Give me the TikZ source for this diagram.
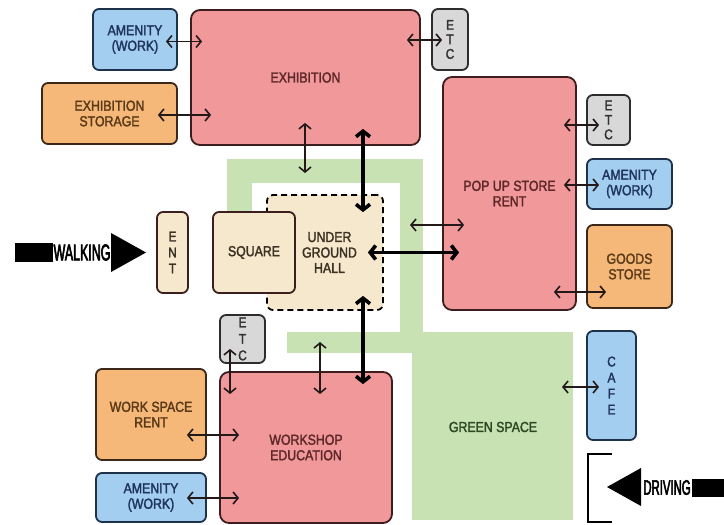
\documentclass[tikz,border=0pt]{standalone}
\usepackage{fontspec}
\setmainfont{Liberation Sans}
\newfontfamily\lblfont[FakeStretch=0.85,FakeBold=2]{Liberation Sans}
\newfontfamily\narrowfont[FakeStretch=0.54,FakeBold=2.5]{Liberation Sans}
\usetikzlibrary{arrows.meta,calc}
\definecolor{redfill}{RGB}{240,152,154}
\definecolor{redline}{RGB}{60,30,30}
\definecolor{redtext}{RGB}{95,40,40}
\definecolor{bluefill}{RGB}{163,206,240}
\definecolor{blueline}{RGB}{30,50,75}
\definecolor{bluetext}{RGB}{30,52,90}
\definecolor{orangefill}{RGB}{246,184,120}
\definecolor{orangeline}{RGB}{60,40,25}
\definecolor{orangetext}{RGB}{90,58,25}
\definecolor{grayfill}{RGB}{216,216,216}
\definecolor{grayline}{RGB}{45,45,45}
\definecolor{graytext}{RGB}{50,50,50}
\definecolor{beigefill}{RGB}{245,232,205}
\definecolor{beigetext}{RGB}{60,50,35}
\definecolor{greenfill}{RGB}{200,226,180}
\definecolor{greentext}{RGB}{45,72,35}
\definecolor{arrowcol}{RGB}{35,25,25}
\begin{document}
\begin{tikzpicture}[x=1pt,y=-1pt,
  box/.style={draw, line width=1.8pt, rounded corners=6pt, inner sep=0pt, align=center,
    font=\lblfont\fontsize{14.5}{15.5}\selectfont},
  redbox/.style={box, fill=redfill, draw=redline, text=redtext, rounded corners=9pt},
  bluebox/.style={box, fill=bluefill, draw=blueline, text=bluetext},
  orangebox/.style={box, fill=orangefill, draw=orangeline, text=orangetext},
  graybox/.style={box, fill=grayfill, draw=grayline, text=graytext, font=\lblfont\fontsize{14}{14.5}\selectfont},
  beigebox/.style={box, fill=beigefill, draw=redline, text=beigetext},
  tarr/.style={draw=arrowcol, line width=1.6pt,
    {Straight Barb[length=5pt,width=12pt]}-{Straight Barb[length=5pt,width=12pt]}},
  karr/.style={draw=black, line width=3.6pt,
    {Straight Barb[length=5.5pt,width=14pt]}-{Straight Barb[length=5.5pt,width=14pt]}}
]
\useasboundingbox (0,0) rectangle (724,525);
\fill[white] (0,0) rectangle (724,525);
% green space shape
\fill[greenfill] (227,159) rectangle (423,183);
\fill[greenfill] (227,159) rectangle (252,240);
\fill[greenfill] (400,159) rectangle (423,353);
\fill[greenfill] (287,332) rectangle (423,353);
\fill[greenfill] (412,332) rectangle (573,520);
\node[text=greentext, font=\lblfont\fontsize{14.5}{15.5}\selectfont] (gs) at (493,427) {GREEN SPACE};

% boxes
\node[redbox, minimum width=229, minimum height=135] (exh) at (305.5,77.5) {EXHIBITION};
\node[bluebox, minimum width=84, minimum height=61] (amenA) at (135,39.5) {AMENITY\\(WORK)};
\node[graybox, minimum width=36, minimum height=61] (etcA) at (450,39.5) {E\\T\\C};
\node[orangebox, minimum width=135, minimum height=61] (stor) at (109.5,113.5) {EXHIBITION\\STORAGE};
\node[redbox, minimum width=133, minimum height=233] (pop) at (509.5,193.5) {POP UP STORE\\RENT};
\node[graybox, minimum width=43, minimum height=50] (etcB) at (608.5,120) {E\\T\\C};
\node[bluebox, minimum width=85, minimum height=50] (amenB) at (629.5,184) {AMENITY\\(WORK)};
\node[orangebox, minimum width=85, minimum height=83] (goods) at (629.5,266.5) {GOODS\\STORE};
\node[beigebox, minimum width=31, minimum height=81, font=\lblfont\fontsize{14}{16}\selectfont] (ent) at (172.5,252.5) {E\\N\\T};
\node[beigebox, dashed, dash pattern=on 6pt off 4pt, draw=black, minimum width=116, minimum height=115] (hall) at (325,252.5) {\hspace*{9pt}UNDER\\\hspace*{9pt}GROUND\\\hspace*{9pt}HALL};
\node[beigebox, minimum width=82, minimum height=81] (square) at (254,252.5) {SQUARE};
\node[graybox, minimum width=45, minimum height=48, font=\lblfont\fontsize{14}{16.5}\selectfont] (etcC) at (242.5,339) {E\\T\\C};
\node[orangebox, minimum width=110, minimum height=91] (wsr) at (151,414.5) {WORK SPACE\\RENT};
\node[bluebox, minimum width=110, minimum height=49] (amenC) at (151,497.5) {AMENITY\\(WORK)};
\node[redbox, minimum width=172, minimum height=151] (work) at (306,447.5) {WORKSHOP\\EDUCATION};
\node[bluebox, minimum width=49, minimum height=109, font=\lblfont\fontsize{14}{16}\selectfont] (cafe) at (611.5,385.5) {C\\A\\F\\E};

% free ends in the green space
\coordinate (gA) at (305,173);
\coordinate (gB) at (410,225);
\coordinate (gC) at (320,342);
\coordinate (gD) at (562,387);

% connectors
\draw[tarr] ($(amenA.east)+(-12,2)$) -- ($(exh.west |- amenA.east)+(12,2)$);
\draw[tarr] ($(exh.east |- etcA.west)+(-14,0.5)$) -- ($(etcA.west)+(11,0.5)$);
\draw[tarr] ($(stor.east)+(-20,1.5)$) -- ($(exh.west |- stor.east)+(21,1.5)$);
\draw[tarr] ($(exh.south -| gA)+(0,-23)$) -- (gA);
\draw[karr] ($(exh.south)+(57.5,-17)$) -- ($(hall.north)+(38,18)$);
\draw[karr] ($(hall.east)+(-16,0)$) -- ($(pop.west |- hall.east)+(17,0)$);
\draw[tarr] (gB) -- ($(pop.west |- gB)+(22,0)$);
\draw[tarr] ($(pop.east |- etcB.west)+(-13,5)$) -- ($(etcB.west)+(13,5)$);
\draw[tarr] ($(pop.east |- amenB.west)+(-13,1)$) -- ($(amenB.west)+(13,1)$);
\draw[tarr] ($(pop.east |- goods.west)+(-23,25.5)$) -- ($(goods.west)+(20,25.5)$);
\draw[karr] ($(hall.south)+(38,-15)$) -- ($(work.north)+(57,13)$);
\draw[tarr] (gC) -- ($(work.north -| gC)+(0,23)$);
\draw[tarr] ($(etcC.south)+(-12.5,-15)$) -- ($(work.north)+(-76,23)$);
\draw[tarr] ($(wsr.east)+(-20,20.5)$) -- ($(work.west |- wsr.east)+(20,20.5)$);
\draw[tarr] ($(amenC.east)+(-20,0.5)$) -- ($(work.west |- amenC.east)+(20,0.5)$);
\draw[tarr] (gD) -- ($(cafe.west |- gD)+(13,0)$);

% walking arrow
\fill[black] (15,243) rectangle (53,262);
\node[text=black, inner sep=0pt, font=\narrowfont\fontsize{23}{23}\selectfont] (walk) at (82,252.5) {WALKING};
\fill[black] (111,233) -- (146,252.5) -- (111,272) -- cycle;

% driving arrow
\fill[black] (607,487) -- (641,468) -- (641,506) -- cycle;
\node[text=black, inner sep=0pt, font=\narrowfont\fontsize{21}{21}\selectfont] (drive) at (667,487.5) {DRIVING};
\fill[black] (692,479) rectangle (724,497);
\draw[line width=1.6pt] (612,454) -- (588,454) -- (588,522) -- (612,522);
\end{tikzpicture}
\end{document}
